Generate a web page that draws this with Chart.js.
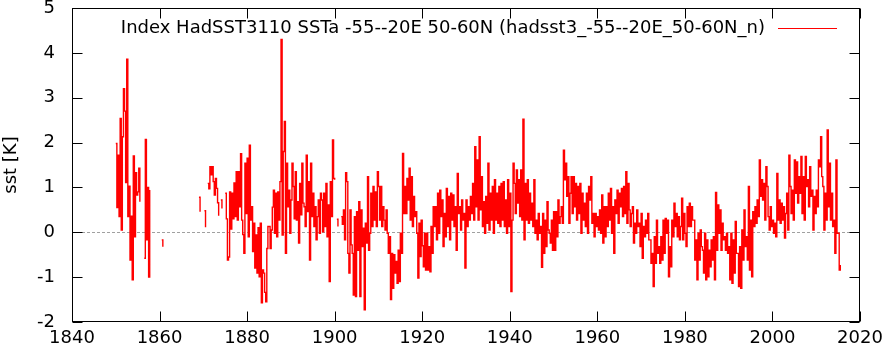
<!DOCTYPE html>
<html><head><meta charset="utf-8">
<script src="https://cdn.jsdelivr.net/npm/chart.js@4/dist/chart.umd.min.js"></script>
<style>html,body{margin:0;padding:0;background:#fff}#wrap{width:882px;height:351px}</style>
</head><body><div id="wrap"><canvas id="c" width="882" height="351"></canvas></div>
<script>
const N = null;
const startYear = 1850;
const perYear = 4; // quarterly samples
const sst1850s = [1.98,0.55,1.72,0.35, 2.54,0.05,2.13,3.2, 2.7,1.11,3.86,0.35, 1.03,-0.62,0.36,-1.06, 1.7,-0.1,1.33,0.83,
  0.9,1.43,0.68,N, N,N,-0.58,2.07, -0.17,1.0,-1.0,0.94, N,N,N,N, N,N,N,N];
const sst1860s = [N,N,-0.17,-0.32, N,N,N,N, N,N,N,N, N,N,N,N, N,N,N,N,
  N,N,N,N, N,N,N,N, N,N,N,N, N,N,N,N, 0.78,0.46,N,N];
const sst1870s = [N,0.48,0.11,N, 1.09,0.97,1.46,1.28, 1.46,1.13,0.83,1.2, 0.98,0.66,0.37,N, 0.72,0.53,N,N,
  0.87,0.3,-0.62,-0.55, 0.9,0.07,0.87,0.3, 1.1,0.35,1.35,0.27, 1.35,0.57,1.75,0.27, -0.05,-0.47,1.54,0.42];
const sst1880s = [1.65,-0.1,1.94,0.27, 0.57,-0.43,0.2,-0.8, -0.06,-0.91,0.1,-0.99, 0.2,-1.57,-0.84,-0.91, -1.34,-1.55,-0.36,0.13,
  0.13,-0.36,0.05,0.56, 0.94,-0.02,0.87,-0.1, 0.9,0.27,1.13,4.3, -0.06,1.8,2.47,-0.47, 1.54,0.57,0.94,-0.02];
const sst1890s = [0.72,1.54,1.02,0.3, 1.35,0.27,0.68,-0.24, 1.09,0.39,1.54,0.65, 0.57,0.13,1.72,0.46, 1.13,-0.62,1.54,0.35,
  0.87,0.13,0.57,-0.17, 0.35,0.72,-0.02,0.87, 0.72,0.01,0.87,0.13, 1.09,-0.1,0.61,-1.1, 1.13,0.35,2.06,1.2];
const sst1900s = [1.17,N,0.29,0.13, N,N,0.35,0.18, 0.5,-0.17,1.33,1.13, -0.47,-0.91,0.5,-0.28, -0.47,-1.4,0.35,-1.43,
  0.46,-0.4,0.68,-1.43, 0.5,-0.32,0.09,-1.73, 0.2,-0.24,1.24,-0.4, -0.02,0.87,0.13,1.02, 0.27,0.9,0.13,1.35];
const sst1910s = [1.02,0.27,1.02,0.13, 0.57,0.27,0.05,0.5, -0.02,-0.47,-0.1,-1.5, -0.47,-1.25,-0.5,-0.91, -0.65,-1.14,-0.4,-1.1,
  -0.02,-0.47,1.76,0.42, 1.02,0.42,1.2,0.72, 1.43,0.27,1.24,0.13, 0.8,0.35,0.46,-0.02, -1.02,0.2,-0.54,0.27];
const sst1920s = [-0.3,-0.77,-0.02,-0.84, -0.02,-0.84,-0.32,-0.88, 0.13,-0.47,0.57,0.13, 0.57,-0.17,0.87,-0.02, 0.94,0.35,0.72,-0.32,
  0.42,-0.1,0.98,0.13, 0.8,-0.17,0.87,0.27, 0.83,0.13,0.57,-0.4, 1.31,0.42,0.57,0.05, 0.72,0.27,0.42,-0.8];
const sst1930s = [0.72,0.13,0.57,0.27, 0.8,0.42,1.09,0.27, 1.91,0.57,1.61,0.27, 2.13,0.5,1.24,0.13, 0.68,-0.02,0.8,0.2,
  1.54,0.05,0.87,0.27, 1.02,-0.02,1.17,0.27, 0.87,0.2,1.02,0.13, 1.09,0.27,1.13,0.13, 0.72,-0.02,1.17,0.13];
const sst1940s = [0.87,-1.32,0.27,1.54, 1.09,0.42,1.39,0.65, 1.17,0.35,1.39,0.27, 2.52,-0.17,1.09,0.27, 1.17,0.2,0.87,0.27,
  0.65,0.13,1.17,-0.02, 0.27,-0.17,0.42,-0.02, 0.13,-0.78,0.42,-0.47, 0.27,-0.32,0.68,0.05, -0.02,-0.24,0.27,-0.4];
const sst1950s = [0.46,-0.4,0.46,-0.1, 0.72,0.2,0.35,0.57, 0.2,1.83,1.17,1.54, 0.8,1.24,0.2,0.87, 1.24,0.42,1.24,0.57,
  1.09,0.27,1.02,0.42, 1.09,-0.02,0.87,0.27, 0.65,0.13,0.87,-0.02, 1.02,0.72,1.24,0.2, 0.42,-0.1,0.42,0.13];
const sst1960s = [0.35,0.05,0.5,-0.02, 0.83,-0.24,0.57,-0.1, 0.57,0.13,0.87,0.27, 0.98,-0.02,0.57,-0.47, 0.72,0.42,0.94,0.2,
  0.87,0.57,0.98,0.35, 1.02,0.42,1.35,0.2, 1.09,0.5,0.13,0.42, 0.57,-0.24,0.2,-0.02, 0.5,0.13,0.2,-0.32];
const sst1970s = [0.42,-0.58,0.13,-0.1, 0.27,-0.02,0.42,-0.17, -0.17,-0.69,-0.47,-1.21, -0.1,-0.69,0.27,-0.47, -0.32,-0.69,-0.1,-0.62,
  0.27,-0.47,0.31,-0.02, 0.27,-0.99,-0.32,-0.77, 0.27,-0.1,0.65,0.13, 0.42,-0.1,0.35,-0.17, 0.13,0.76,-0.17,0.42];
const sst1980s = [-0.02,-0.32,0.57,0.13, 0.65,0.13,0.57,0.27, 0.27,-0.62,-0.17,-1.06, -0.02,-0.62,0.05,-0.32, -0.4,-0.91,-0.02,-1.06,
  -0.17,-0.99,-0.4,-0.77, -0.17,-0.62,-0.1,-1.06, 0.89,-0.4,0.61,-0.02, 0.5,-0.4,0.2,-0.17, -0.1,-0.4,-0.02,-0.47];
const sst1990s = [-0.32,-1.06,-0.02,-1.14, -0.17,-0.91,0.24,-0.47, -0.47,-1.21,-0.32,-1.25, 0.05,-0.62,0.5,-0.32, -0.1,-0.62,1.02,-0.84,
  0.27,-0.99,0.46,0.13, 0.57,0.2,0.72,0.35, 1.61,0.8,1.17,0.72, 1.09,0.27,1.46,1.02, 0.35,0.05,0.57,0.13];
const sst2000s = [0.27,-0.02,0.2,-0.1, 1.31,0.27,0.72,0.2, 0.65,0.27,0.57,-0.13, 0.42,0.87,0.05,1.72, 1.02,0.42,0.94,0.27,
  1.61,0.87,1.57,0.65, 1.24,0.87,1.69,0.42, 1.24,0.27,1.69,1.02, 1.17,0.57,1.46,0.8, 0.94,0.05,0.8,0.42];
const sst2010s = [0.94,0.57,1.61,1.46, 2.13,1.24,1.02,0.05, 0.87,0.27,2.28,0.57, 1.54,0.27,0.87,0.13, 0.27,-0.47,1.61,-0.02,
  -0.02,-0.84,-0.73];

const xTicks = [1840,1860,1880,1900,1920,1940,1960,1980,2000,2020];
const yTicks = [-2,-1,0,1,2,3,4,5];
const legendLabel = "Index HadSST3110 SSTa -55--20E 50-60N (hadsst3_-55--20E_50-60N_n)";
const yTitle = "sst [K]";

const allValues = [].concat(sst1850s, sst1860s, sst1870s, sst1880s, sst1890s, sst1900s, sst1910s, sst1920s,
  sst1930s, sst1940s, sst1950s, sst1960s, sst1970s, sst1980s, sst1990s, sst2000s, sst2010s);
const points = allValues.map((v, i) => ({x: startYear + i / perYear, y: v}));

const FONT = {family: '"DejaVu Sans", sans-serif', size: 18};

const decor = {
  id: 'decor',
  beforeDatasetsDraw(chart) {
    const {ctx, chartArea: a, scales: {y}} = chart;
    const y0 = Math.round(y.getPixelForValue(0)) + 0.5;
    ctx.save();
    ctx.strokeStyle = '#a0a0a0'; ctx.lineWidth = 1; ctx.setLineDash([3, 2]);
    ctx.beginPath(); ctx.moveTo(a.left, y0); ctx.lineTo(a.right, y0); ctx.stroke();
    ctx.restore();
  },
  afterDatasetsDraw(chart) {
    const {ctx, chartArea: a, scales: {x, y}} = chart;
    ctx.save();
    ctx.strokeStyle = '#000'; ctx.lineWidth = 1;
    const L = Math.round(a.left) + 0.5, R = Math.round(a.right) - 0.5;
    const T = Math.round(a.top) + 0.5, B = Math.round(a.bottom) - 0.5;
    ctx.beginPath();
    xTicks.forEach(v => {
      const px = Math.round(x.getPixelForValue(v)) + 0.5;
      ctx.moveTo(px, B); ctx.lineTo(px, B - 10);
      ctx.moveTo(px, T); ctx.lineTo(px, T + 10);
    });
    yTicks.forEach(v => {
      const py = Math.round(y.getPixelForValue(v)) + 0.5;
      ctx.moveTo(L, py); ctx.lineTo(L + 10, py);
      ctx.moveTo(R, py); ctx.lineTo(R - 10, py);
    });
    ctx.stroke();
    ctx.strokeRect(L, T, R - L, B - T);
    // legend
    ctx.font = '18px "DejaVu Sans", sans-serif';
    ctx.fillStyle = '#000'; ctx.textAlign = 'right'; ctx.textBaseline = 'alphabetic';
    ctx.fillText(legendLabel, a.right - 95, a.top + 25);
    ctx.strokeStyle = '#ff0000';
    const ly = Math.round(a.top + 20) + 0.5;
    ctx.beginPath(); ctx.moveTo(a.right - 82, ly); ctx.lineTo(a.right - 23, ly); ctx.stroke();
    ctx.restore();
  }
};

new Chart(document.getElementById('c'), {
  type: 'line',
  data: {datasets: [{
    label: legendLabel,
    data: points,
    borderColor: '#ff0000',
    borderWidth: 1.4,
    pointRadius: 0,
    stepped: true,
    spanGaps: false,
    fill: false
  }]},
  options: {
    responsive: false,
    devicePixelRatio: 1,
    animation: false,
    layout: {padding: {left: 0, right: 22, top: 8, bottom: 0}},
    plugins: {legend: {display: false}, tooltip: {enabled: false}},
    scales: {
      x: {
        type: 'linear', min: 1840, max: 2020,
        afterFit(s) { s.height = 29; s.paddingLeft = 0; s.paddingRight = 0; },
        grid: {display: false, drawTicks: false},
        border: {display: false},
        ticks: {stepSize: 20, padding: 6, color: '#000', font: FONT, maxRotation: 0, autoSkip: false,
          callback: v => String(v)}
      },
      y: {
        min: -2, max: 5,
        afterFit(s) { s.width = 72; s.paddingTop = 0; s.paddingBottom = 0; },
        grid: {display: false, drawTicks: false},
        border: {display: false},
        ticks: {stepSize: 1, padding: 17, color: '#000', font: FONT},
        title: {display: true, text: yTitle, color: '#000', font: FONT, padding: {top: 1, bottom: 0}}
      }
    }
  },
  plugins: [decor]
});
</script>
</body></html>
